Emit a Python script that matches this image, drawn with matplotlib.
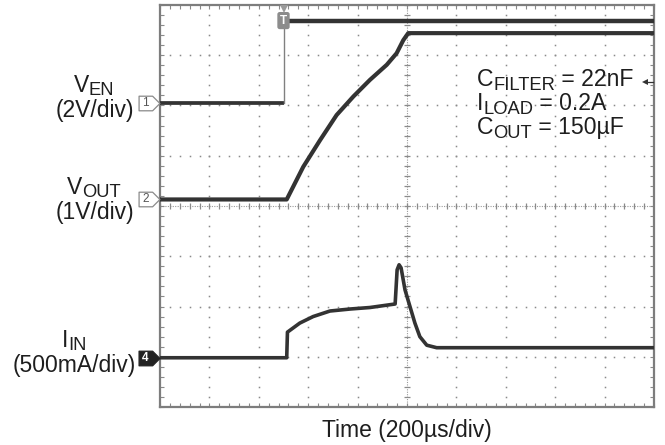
import numpy as np
import matplotlib
matplotlib.use("Agg")
import matplotlib.pyplot as plt
from matplotlib.path import Path

plt.rcParams['font.family'] = ['Liberation Sans', 'DejaVu Sans']

# ---------------- data (time in µs, levels in screen divisions) ----------------
ven_time = [0, 500, 500, 2000]
ven_level = [6.05, 6.05, 7.68, 7.68]

vout_time = [0, 513, 580, 648, 715, 783, 850, 918, 958, 985, 1005, 2000]
vout_level = [4.13, 4.13, 4.78, 5.31, 5.81, 6.18, 6.51, 6.81, 7.04, 7.30, 7.44, 7.44]

iin_time = [0, 513, 516, 566, 620, 688, 770, 850, 952, 960, 968, 976, 992,
            1012, 1032, 1052, 1080, 1120, 2000]
iin_level = [0.98, 0.98, 1.49, 1.67, 1.80, 1.91, 1.95, 1.98, 2.05, 2.73, 2.83,
             2.77, 2.33, 2.00, 1.67, 1.40, 1.23, 1.18, 1.18]

trigger_time = 500
trigger_level = 6.47

# (main letter, subscript) for each channel label
channel_labels = [('V', 'EN'), ('V', 'OUT'), ('I', 'IN')]
channel_scales = ['(2V/div)', '(1V/div)', '(500mA/div)']
channel_ids = ['1', '2', '4']
conditions = [('C', 'FILTER', ' = 22nF'), ('I', 'LOAD', ' = 0.2A'),
              ('C', 'OUT', ' = 150µF')]
x_title = 'Time (200µs/div)'

# ---------------- figure ----------------
W, H = 665, 445
fig = plt.figure(figsize=(W / 100, H / 100), dpi=100)
fig.patch.set_facecolor('white')
L, R, T, B = 160, 654, 5, 407
ax = fig.add_axes([L / W, 1 - B / H, (R - L) / W, (B - T) / H])
ax.set_xlim(0, 2000)
ax.set_ylim(0, 8)
renderer = fig.canvas.get_renderer()

def fx(px):
    return px / W

def fy(py):
    return 1 - py / H

text_c = '#1e1e1e'

def measure(parts, size, sub_scale=0.8):
    tot = 0
    for s, is_sub in parts:
        t = fig.text(0, 0, s, fontsize=size * (sub_scale if is_sub else 1.0))
        tot += t.get_window_extent(renderer).width
        t.remove()
    return tot

def sub_text(x_px, base_py, parts, size, ha='left', sub_scale=0.8, drop=4.0):
    """parts: list of (string, is_sub). Places pieces side by side."""
    objs = []
    widths = []
    for s, is_sub in parts:
        t = fig.text(0, 0, s, fontsize=size * (sub_scale if is_sub else 1.0),
                     ha='left', va='baseline', color=text_c)
        widths.append(t.get_window_extent(renderer).width)
        objs.append((t, is_sub))
    total = sum(widths)
    x0 = x_px - (total / 2 if ha == 'center' else 0)
    for (t, is_sub), w in zip(objs, widths):
        t.set_position((fx(x0), fy(base_py + (drop if is_sub else 0))))
        x0 += w

grid_c = '#8a8a8a'
# dotted graticule
xs_dots = np.arange(0, 2000.1, 40)
ys_dots = np.arange(0, 8.01, 0.2)
for yv in range(1, 8):
    if yv == 4:
        continue
    ax.plot(xs_dots, np.full_like(xs_dots, yv), ls='none', marker='s', ms=1.1,
            mew=0, color=grid_c, zorder=1)
for xv in range(200, 2000, 200):
    if xv == 1000:
        continue
    ax.plot(np.full_like(ys_dots, xv), ys_dots, ls='none', marker='s', ms=1.1,
            mew=0, color=grid_c, zorder=1)
# center crosshair with ticks
ax.axvline(1000, color='#9a9a9a', lw=0.8, ls=(0, (1, 1.2)), zorder=1)
ax.axhline(4, color='#9a9a9a', lw=0.8, ls=(0, (1, 1.2)), zorder=1)
ax.plot(np.full_like(ys_dots, 1000), ys_dots, ls='none', marker='_', ms=5,
        mew=0.9, color=grid_c, zorder=1)
ax.plot(xs_dots, np.full_like(xs_dots, 4), ls='none', marker='|', ms=5,
        mew=0.9, color=grid_c, zorder=1)

# frame
for s in ax.spines.values():
    s.set_color('#7d7d7d')
    s.set_linewidth(1.6)
ax.set_xticks(np.arange(0, 2001, 200))
ax.set_xticks(np.arange(0, 2001, 40), minor=True)
ax.set_yticks(np.arange(0, 8.01, 1))
ax.set_yticks(np.arange(0, 8.01, 0.2), minor=True)
ax.tick_params(which='both', direction='in', length=3, width=0.8, color=grid_c,
               top=True, right=True, labelbottom=False, labelleft=False)

trace_c = '#333333'
# V_EN: thick flat parts, thin fast edge
ax.plot(ven_time[:2], ven_level[:2], color=trace_c, lw=2.7, solid_capstyle='butt', zorder=3)
ax.plot(ven_time[1:3], ven_level[1:3], color='#808080', lw=1.0, zorder=3)
ax.plot(ven_time[2:], ven_level[2:], color=trace_c, lw=3.2, solid_capstyle='butt', zorder=3)
# V_OUT
ax.plot(vout_time, vout_level, color=trace_c, lw=3.0, solid_joinstyle='round', zorder=3)
# I_IN
ax.plot(iin_time, iin_level, color=trace_c, lw=2.6, solid_joinstyle='round', zorder=3)

# trigger markers
ax.text(trigger_time, 7.69, 'T', ha='center', va='center', fontsize=8.5,
        color='white', fontweight='bold', zorder=5,
        bbox=dict(boxstyle='round,pad=0.22,rounding_size=0.2', fc='#8c8c8c', ec='none'))
ax.plot([trigger_time], [7.93], marker='v', ms=6, color='#9a9a9a', mew=0,
        clip_on=False, zorder=5)
ax.plot([0.982], [trigger_level], marker='<', ms=4.5, color='#333333', mew=0,
        transform=ax.get_yaxis_transform(), clip_on=False, zorder=5)
ax.plot([0.982, 0.997], [trigger_level, trigger_level], color='#333333', lw=0.9,
        transform=ax.get_yaxis_transform(), clip_on=False, zorder=5)

# channel markers at left edge
pent = Path([(-10, -7), (3, -7), (10, 0), (3, 7), (-10, 7), (-10, -7)],
            [Path.MOVETO, Path.LINETO, Path.LINETO, Path.LINETO, Path.LINETO,
             Path.CLOSEPOLY])
levels = [ven_level[0], vout_level[0], iin_level[0]]
yt = ax.get_yaxis_transform()
for cid, lev in zip(channel_ids, levels):
    filled = (cid == '4')
    ax.plot([-11 / (R - L)], [lev], marker=pent, ms=15,
            mfc='#222222' if filled else 'white',
            mec='#222222' if filled else '#8a8a8a', mew=0.9,
            transform=yt, clip_on=False, zorder=6)
    ax.text(-14.5 / (R - L), lev, cid, transform=yt, ha='center', va='center',
            fontsize=8.5, color='white' if filled else '#555555',
            fontweight='bold' if filled else 'normal', zorder=7)

# left labels
label_pos = [(94, 92, 95, 117), (94, 194, 95, 219), (74, 347, 74.5, 372)]
for ((m, sb), sc, (x1, y1, x2, y2)) in zip(channel_labels, channel_scales, label_pos):
    sub_text(x1, y1, [(m, False), (sb, True)], 16.5, ha='center', drop=3.0)
    fig.text(fx(x2), fy(y2), sc, ha='center', va='baseline', fontsize=16.5, color=text_c)

# conditions: size fitted so the first line spans the reference width
first = conditions[0]
w16 = measure([(first[0], False), (first[1], True), (first[2], False)], 16.0)
cond_size = 16.0 * 157.0 / w16
for (m, sb, rest), by in zip(conditions, [86, 110, 134]):
    sub_text(477, by, [(m, False), (sb, True), (rest, False)], cond_size, ha='left', drop=4)

# x title
fig.text(fx(407), fy(437), x_title, ha='center', va='baseline', fontsize=16.5, color=text_c)

fig.savefig('out.png', dpi=100, facecolor='white')
